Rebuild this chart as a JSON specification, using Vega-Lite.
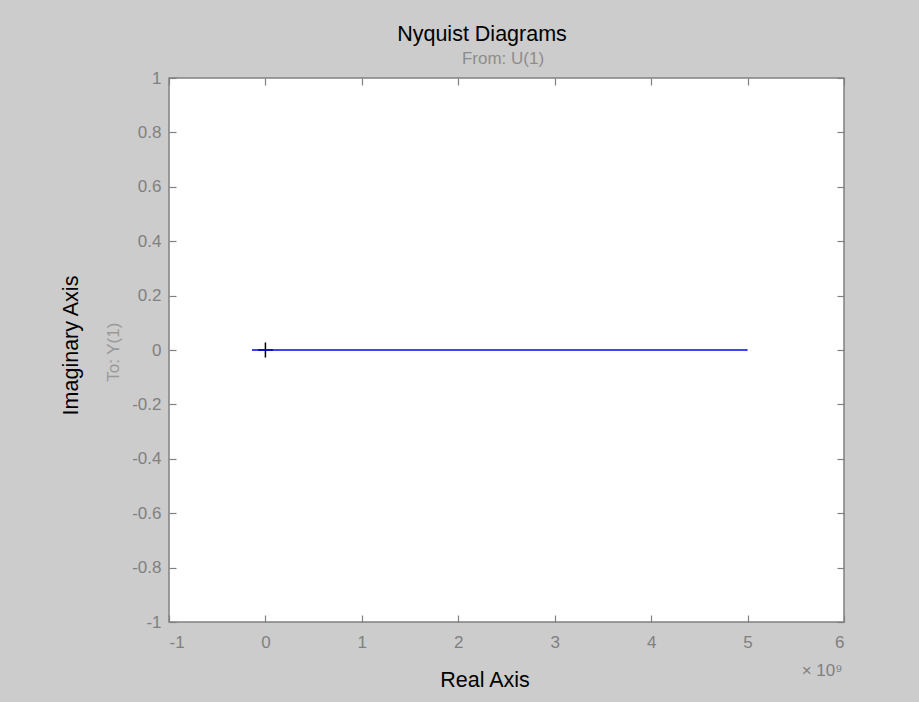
{
  "$schema": "https://vega.github.io/schema/vega-lite/v6.json",
  "width": 675,
  "height": 544,
  "autosize": {"type": "none"},
  "padding": {"left": 169, "top": 78, "right": 75, "bottom": 80},
  "background": "#cccccc",
  "title": {
    "text": "Nyquist Diagrams",
    "anchor": "middle",
    "frame": "group",
    "dx": -24.5,
    "offset": -18,
    "baseline": "bottom",
    "fontSize": 21.5,
    "font": "Liberation Sans",
    "fontWeight": "normal",
    "color": "black"
  },
  "config": {
    "view": {"fill": "white", "stroke": "#808080", "strokeWidth": 1.5},
    "axis": {
      "grid": false,
      "domain": false,
      "labelFont": "Liberation Sans",
      "titleFont": "Liberation Sans",
      "labelColor": "#808080",
      "labelFontSize": 17,
      "tickColor": "#808080",
      "tickSize": -7,
      "tickWidth": 1.2,
      "titleFontWeight": "normal"
    }
  },
  "resolve": {"axis": {"x": "independent", "y": "independent"}},
  "layer": [
    {
      "data": {"values": [{"re": -1, "im": 0}]},
      "mark": {"type": "point", "shape": "M-1,0H1M0,-1V1", "size": 225, "filled": false, "stroke": "black", "strokeWidth": 1.5, "opacity": 1},
      "encoding": {
        "x": {
          "field": "re", "type": "quantitative",
          "scale": {"domain": [-1000000000, 6000000000], "nice": false, "zero": false},
          "axis": {
            "orient": "top", "labels": false, "ticks": true,
            "values": [-1000000000, 0, 1000000000, 2000000000, 3000000000, 4000000000, 5000000000, 6000000000],
            "title": "From: U(1)", "titleColor": "#8c8c8c", "titleFontSize": 17,
            "titleX": 333.5, "titleY": -15, "titleAlign": "center", "titleBaseline": "alphabetic"
          }
        },
        "y": {
          "field": "im", "type": "quantitative",
          "scale": {"domain": [-1, 1], "nice": false, "zero": false},
          "axis": {
            "orient": "right", "labels": false, "ticks": true,
            "values": [-1, -0.8, -0.6, -0.4, -0.2, 0, 0.2, 0.4, 0.6, 0.8, 1],
            "title": null
          }
        }
      }
    },
    {
      "data": {"values": [{"re": -1, "im": 0}]},
      "mark": {"type": "point", "opacity": 0},
      "encoding": {
        "x": {
          "field": "re", "type": "quantitative",
          "axis": {
            "orient": "bottom", "labels": false, "ticks": false,
            "title": "× 10⁹", "titleColor": "#808080", "titleFontSize": 17,
            "titleX": 673, "titleY": 53, "titleAlign": "right", "titleBaseline": "alphabetic"
          }
        },
        "y": {
          "field": "im", "type": "quantitative",
          "axis": {
            "orient": "left", "labels": false, "ticks": false,
            "title": "Imaginary Axis", "titleColor": "black", "titleFontSize": 21.5,
            "titleX": -92, "titleY": 267, "titleAngle": -90, "titleAlign": "center", "titleBaseline": "alphabetic"
          }
        }
      }
    },
    {
      "data": {"values": [{"re": -140000000, "im": 0}, {"re": 5000000000, "im": 0}]},
      "mark": {"type": "line", "color": "#0000ff", "strokeWidth": 1.5},
      "encoding": {
        "x": {
          "field": "re", "type": "quantitative",
          "axis": {
            "orient": "bottom",
            "values": [-1000000000, 0, 1000000000, 2000000000, 3000000000, 4000000000, 5000000000, 6000000000],
            "labelExpr": "'' + (datum.value / 1000000000)",
            "labelPadding": 19,
            "title": "Real Axis", "titleColor": "black", "titleFontSize": 21.5,
            "titleX": 315.5, "titleY": 64, "titleAlign": "center", "titleBaseline": "alphabetic"
          }
        },
        "y": {
          "field": "im", "type": "quantitative",
          "axis": {
            "orient": "left",
            "values": [-1, -0.8, -0.6, -0.4, -0.2, 0, 0.2, 0.4, 0.6, 0.8, 1],
            "labelExpr": "'' + datum.value",
            "labelPadding": 15,
            "title": "To: Y(1)", "titleColor": "#999999", "titleFontSize": 17,
            "titleX": -51, "titleY": 273.7, "titleAngle": -90, "titleAlign": "center", "titleBaseline": "alphabetic"
          }
        }
      }
    }
  ]
}
